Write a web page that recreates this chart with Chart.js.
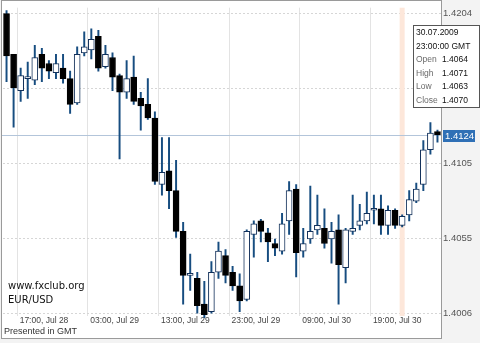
<!DOCTYPE html>
<html><head><meta charset="utf-8">
<script src="https://cdn.jsdelivr.net/npm/chart.js@4/dist/chart.umd.min.js"></script>
<style>html,body{margin:0;padding:0;background:#f3f3f3;}canvas{display:block;}</style>
</head><body>
<canvas id="c" width="480" height="343"></canvas>
<script>
const categories = [
 '15:00, Jul 28','16:00, Jul 28','17:00, Jul 28','18:00, Jul 28','19:00, Jul 28','20:00, Jul 28','21:00, Jul 28','22:00, Jul 28','23:00, Jul 28',
 '00:00, Jul 29','01:00, Jul 29','02:00, Jul 29','03:00, Jul 29','04:00, Jul 29','05:00, Jul 29','06:00, Jul 29','07:00, Jul 29','08:00, Jul 29','09:00, Jul 29','10:00, Jul 29','11:00, Jul 29','12:00, Jul 29','13:00, Jul 29','14:00, Jul 29','15:00, Jul 29','16:00, Jul 29','17:00, Jul 29','18:00, Jul 29','19:00, Jul 29','20:00, Jul 29','21:00, Jul 29','22:00, Jul 29','23:00, Jul 29',
 '00:00, Jul 30','01:00, Jul 30','02:00, Jul 30','03:00, Jul 30','04:00, Jul 30','05:00, Jul 30','06:00, Jul 30','07:00, Jul 30','08:00, Jul 30','09:00, Jul 30','10:00, Jul 30','11:00, Jul 30','12:00, Jul 30','13:00, Jul 30','14:00, Jul 30','15:00, Jul 30','16:00, Jul 30','17:00, Jul 30','18:00, Jul 30','19:00, Jul 30','20:00, Jul 30','21:00, Jul 30','22:00, Jul 30','23:00, Jul 30',
 '00:00, Jul 31','01:00, Jul 31','02:00, Jul 31','03:00, Jul 31','04:00, Jul 31'
];
const opens = [1.4204,1.4177,1.4153,1.4161,1.4160,1.4177,1.4171,1.4165,1.4168,1.4161,
 1.4145,1.4178,1.4180,1.4189,1.4169,1.4175,1.4163,1.4152,1.4162,1.4148,
 1.4144,1.4135,1.4091,1.4100,1.4087,1.4060,1.4031,1.4029,1.4012,1.4007,
 1.4033,1.4044,1.4033,1.4024,1.4015,1.4058,1.4067,1.4059,1.4052,1.4047,
 1.4067,1.4088,1.4047,1.4055,1.4061,1.4062,1.4055,1.4061,1.4036,1.4060,
 1.4064,1.4067,1.4074,1.4075,1.4064,1.4074,1.4064,1.4071,1.4080,1.4091,
 1.4114,1.4126];
const highs = [1.4206,1.4177,1.4168,1.4172,1.4183,1.4181,1.4173,1.4177,1.4177,1.4166,
 1.4182,1.4192,1.4194,1.4193,1.4183,1.4178,1.4164,1.4173,1.4176,1.4152,
 1.4161,1.4139,1.4122,1.4122,1.4107,1.4066,1.4045,1.4033,1.4027,1.4040,
 1.4053,1.4048,1.4037,1.4032,1.4061,1.4067,1.4068,1.4062,1.4055,1.4072,
 1.4093,1.4091,1.4062,1.4090,1.4084,1.4075,1.4066,1.4071,1.4062,1.4084,
 1.4078,1.4086,1.4084,1.4084,1.4077,1.4075,1.4071,1.4087,1.4092,1.4120,
 1.4132,1.4127];
const lows = [1.4159,1.4129,1.4146,1.4148,1.4157,1.4159,1.4161,1.4161,1.4158,1.4138,
 1.4144,1.4176,1.4174,1.4166,1.4168,1.4153,1.4108,1.4148,1.4144,1.4127,
 1.4134,1.4091,1.4084,1.4075,1.4056,1.4012,1.4021,1.4006,1.4003,1.4006,
 1.4029,1.4026,1.4021,1.4007,1.4014,1.4043,1.4053,1.4040,1.4044,1.4045,
 1.4058,1.4030,1.4043,1.4052,1.4058,1.4049,1.4039,1.4012,1.4026,1.4058,
 1.4061,1.4065,1.4065,1.4058,1.4058,1.4062,1.4063,1.4067,1.4079,1.4087,
 1.4111,1.4119];
const closes = [1.4176,1.4155,1.4163,1.4161,1.4175,1.4168,1.4166,1.4171,1.4161,1.4144,
 1.4177,1.4182,1.4187,1.4168,1.4177,1.4162,1.4152,1.4161,1.4146,1.4143,
 1.4135,1.4093,1.4099,1.4087,1.4060,1.4031,1.4031,1.4011,1.4005,1.4033,
 1.4047,1.4031,1.4024,1.4014,1.4060,1.4065,1.4060,1.4053,1.4049,1.4065,
 1.4087,1.4046,1.4052,1.4060,1.4064,1.4052,1.4060,1.4038,1.4061,1.4062,
 1.4067,1.4072,1.4074,1.4064,1.4074,1.4064,1.4070,1.4081,1.4088,1.4114,
 1.4125,1.4124];
const xTickLabels = ['17:00, Jul 28','03:00, Jul 29','13:00, Jul 29','23:00, Jul 29','09:00, Jul 30','19:00, Jul 30'];
const yTickValues = [1.4006, 1.40555, 1.4105, 1.41545, 1.4204];
const yTickLabels = ['1.4006','1.4055','1.4105','1.4155','1.4204'];
const yMin = 1.40041, yMax = 1.42079;
const lastPrice = 1.4124;
const lastPriceLabel = '1.4124';
const highlightIndex = 56;
const tooltipLines = [['30.07.2009',''],['23:00:00 GMT',''],['Open','1.4064'],['High','1.4071'],['Low','1.4063'],['Close','1.4070']];
const watermark = ['www.fxclub.org','EUR/USD'];
const footerText = 'Presented in GMT';

const WICK = '#174d80';
const decor = {
  id: 'decor',
  beforeDraw(chart) {
    const c = chart.ctx;
    c.save();
    c.fillStyle = '#f3f3f3';
    c.fillRect(0, 0, chart.width, chart.height);
    c.fillStyle = '#ffffff';
    c.fillRect(1, 0, 441, 339);
    c.restore();
  },
  beforeDatasetsDraw(chart) {
    const c = chart.ctx, a = chart.chartArea;
    const xs = chart.scales.x, ys = chart.scales.y;
    c.save();
    const hx = xs.getPixelForValue(highlightIndex);
    c.fillStyle = '#fde7da';
    c.fillRect(hx - 2.5, a.top, 5, a.bottom - a.top);
    const py = Math.round(ys.getPixelForValue(lastPrice)) + 0.5;
    c.strokeStyle = '#b3c5da';
    c.lineWidth = 1;
    c.beginPath(); c.moveTo(2, py); c.lineTo(441, py); c.stroke();
    c.restore();
  },
  afterDraw(chart) {
    const c = chart.ctx, ys = chart.scales.y;
    c.save();
    // frame
    c.strokeStyle = '#9a9a9a';
    c.lineWidth = 1;
    c.strokeRect(1.5, 0.5, 440, 338);
    // last price label
    const py = Math.round(ys.getPixelForValue(lastPrice));
    c.fillStyle = '#2f70b6';
    c.fillRect(443, py - 5, 32, 12);
    c.fillStyle = '#ffffff';
    c.font = '9.5px "Liberation Sans"';
    c.textBaseline = 'middle';
    c.textAlign = 'left';
    c.fillText(lastPriceLabel, 445, py + 1);
    // info box
    c.fillStyle = '#ffffff';
    c.fillRect(413, 25, 66, 82);
    c.strokeStyle = '#555555';
    c.strokeRect(413.5, 25.5, 66, 82);
    c.font = '8.5px "Liberation Sans"';
    tooltipLines.forEach((ln, i) => {
      const y = 33 + i * 13.5;
      c.fillStyle = ln[1] ? '#6a6a6a' : '#111111';
      c.fillText(ln[0], 416, y);
      if (ln[1]) { c.fillStyle = '#111111'; c.fillText(ln[1], 442, y); }
    });
    // watermark
    c.fillStyle = '#111111';
    c.font = '10px "DejaVu Sans"';
    c.fillText(watermark[0], 8, 286);
    c.fillText(watermark[1], 8, 300);
    c.fillStyle = '#333333';
    c.font = '9px "Liberation Sans"';
    c.fillText(footerText, 4, 332);
    c.restore();
  }
};

const bodyData = categories.map((_, i) => [opens[i], closes[i]]);
const wickData = categories.map((_, i) => [lows[i], highs[i]]);

new Chart(document.getElementById('c'), {
  type: 'bar',
  data: {
    labels: categories,
    datasets: [
      {
        label: 'body', data: bodyData, order: 0, grouped: false,
        backgroundColor: ctx => closes[ctx.dataIndex] < opens[ctx.dataIndex] ? '#000000' : '#ffffff',
        borderColor: ctx => closes[ctx.dataIndex] < opens[ctx.dataIndex] ? '#000000' : '#12305a',
        borderWidth: 1, borderSkipped: false, barThickness: 6, minBarLength: 2
      },
      {
        label: 'wick', data: wickData, order: 1, grouped: false,
        backgroundColor: WICK, borderWidth: 0, barThickness: 1.3
      }
    ]
  },
  options: {
    responsive: false, animation: false, events: [],
    layout: { padding: { left: 3, top: 1, right: 0, bottom: 0 } },
    plugins: { legend: { display: false }, tooltip: { enabled: false } },
    datasets: { bar: { clip: 4 } },
    scales: {
      x: {
        grid: { offset: true, drawTicks: false, lineWidth: 1,
          color: ctx => (ctx.tick && xTickLabels.includes(categories[ctx.index])) ? '#e3e3e3' : 'rgba(0,0,0,0)' },
        border: { display: false },
        ticks: { autoSkip: false, maxRotation: 0, minRotation: 0, align: 'start', labelOffset: -1, padding: 0,
          color: '#444444', font: { family: 'Liberation Sans', size: 8.5 },
          callback: function (v) { const l = this.getLabelForValue(v); return xTickLabels.includes(l) ? l : ''; } },
        afterFit: s => { s.height = 27; }
      },
      y: {
        position: 'right', min: yMin, max: yMax,
        afterBuildTicks: s => { s.ticks = yTickValues.map(v => ({ value: v })); },
        ticks: { padding: 2, color: '#555555', font: { family: 'Liberation Sans', size: 9.5 },
          callback: (v, i) => yTickLabels[i] },
        grid: { color: '#d6d6d6', drawTicks: false, borderDash: [2, 2] },
        border: { display: false, dash: [2, 2] },
        afterFit: s => { s.width = 39; }
      }
    }
  },
  plugins: [decor]
});
</script>
</body></html>
